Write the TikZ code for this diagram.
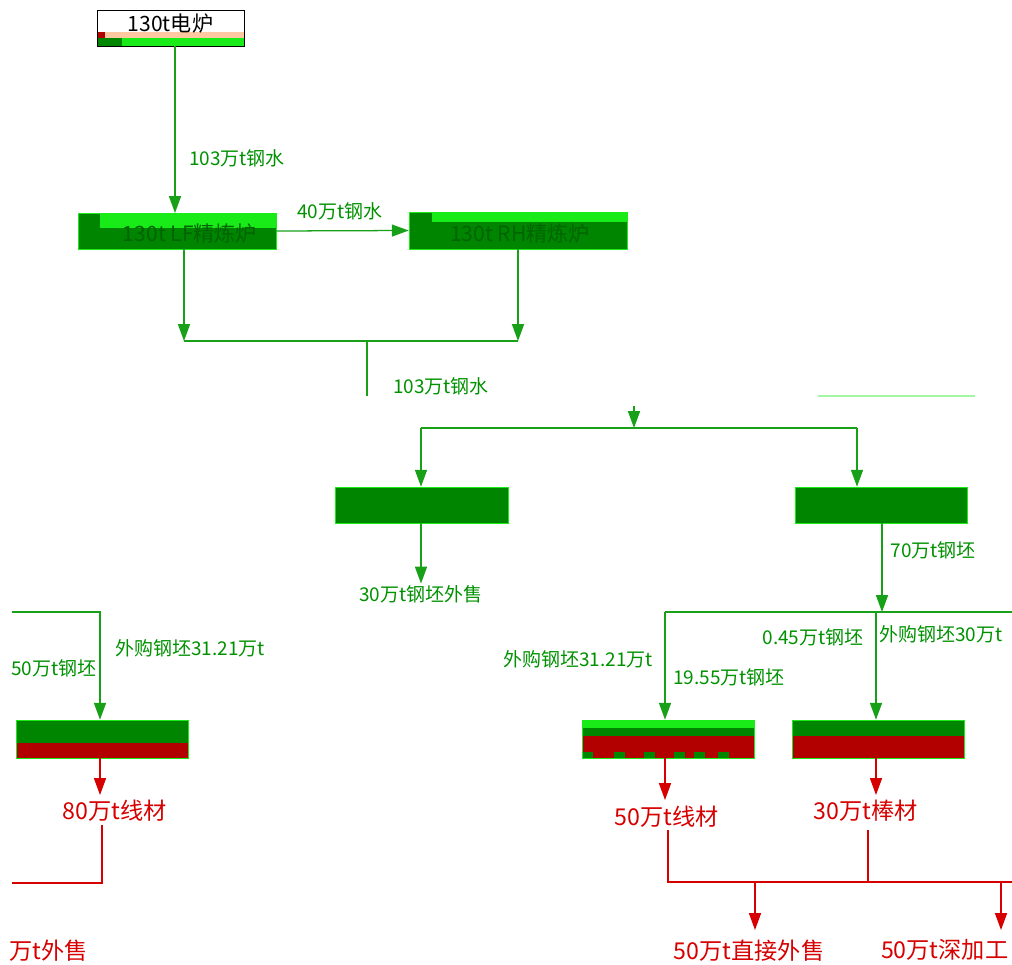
\documentclass[tikz,border=0pt]{standalone}
\usepackage{fontspec}
\setmainfont{Noto Sans CJK SC}
\usetikzlibrary{arrows.meta}
\definecolor{lgreen}{RGB}{25,160,25}
\definecolor{dgreen}{RGB}{0,133,0}
\definecolor{bgreen}{RGB}{25,235,25}
\definecolor{tgreen}{RGB}{0,145,0}
\definecolor{dred}{RGB}{178,0,0}
\definecolor{tred}{RGB}{215,0,0}
\definecolor{salmon}{RGB}{255,200,160}
\tikzset{
  flow/.style={draw=lgreen,line width=0.9pt},
  redflow/.style={draw=tred,line width=0.9pt},
  tip/.style={-{Triangle[length=0.42cm,width=0.3cm]}},
  gbox/.style={fill=dgreen,draw=bgreen,line width=0.4pt,inner sep=0pt},
  gtxt/.style={text=tgreen,font=\fontsize{13.5}{15}\selectfont,inner sep=1pt},
  rtxt/.style={text=tred,font=\fontsize{16.5}{18}\selectfont,inner sep=1pt}
}
\begin{document}
\begin{tikzpicture}[x=0.025cm,y=-0.025cm]
\useasboundingbox (0,0) rectangle (1012,965);
\clip (0,0) rectangle (1012,965);
% furnaces and ladle furnaces
\node[draw=black,fill=white,minimum width=3.675cm,minimum height=0.9cm,inner sep=0pt,
  path picture={
    \fill[salmon] ([yshift=0.2cm]path picture bounding box.south west) rectangle ([yshift=0.35cm]path picture bounding box.south east);
    \fill[dred] ([yshift=0.2cm]path picture bounding box.south west) rectangle ++(0.2cm,0.15cm);
    \fill[bgreen] (path picture bounding box.south west) rectangle ([yshift=0.2cm]path picture bounding box.south east);
    \fill[dgreen] (path picture bounding box.south west) rectangle ++(0.625cm,0.2cm);
  }] (eaf) at (170.5,28) {};
\node[font=\fontsize{15}{16}\selectfont] (eaftxt) at (170.5,24) {130t电炉};
\node[gbox,minimum width=4.95cm,minimum height=0.9cm,
  path picture={\fill[bgreen] ([xshift=0.55cm]path picture bounding box.north west) rectangle ([yshift=-0.375cm]path picture bounding box.north east);}] (lf) at (177,231) {};
\node[text=dgreen!75!black,font=\fontsize{15}{16}\selectfont] (lftxt) at (190,233) {130t LF精炼炉};
\node[gbox,minimum width=5.45cm,minimum height=0.925cm,
  path picture={\fill[bgreen] ([xshift=0.575cm]path picture bounding box.north west) rectangle ([yshift=-0.25cm]path picture bounding box.north east);}] (rh) at (518,230.5) {};
\node[text=dgreen!75!black,font=\fontsize{15}{16}\selectfont] (rhtxt) at (520,233) {130t RH精炼炉};
% casters
\node[gbox,minimum width=4.325cm,minimum height=0.9cm] (ccA) at (421.5,505) {};
\node[gbox,minimum width=4.3cm,minimum height=0.9cm] (ccB) at (881,505) {};
% rolling mills
\node[gbox,minimum width=4.3cm,minimum height=0.95cm,
  path picture={\fill[dred] (path picture bounding box.south west) rectangle ([yshift=0.375cm]path picture bounding box.south east);}] (millL) at (102,739) {};
\node[gbox,minimum width=4.3cm,minimum height=0.95cm,
  path picture={
    \fill[bgreen] (path picture bounding box.north west) rectangle ([yshift=-0.2cm]path picture bounding box.north east);
    \fill[dred] (path picture bounding box.south west) rectangle ([yshift=0.55cm]path picture bounding box.south east);
    \foreach \x in {0,0.8,1.55,2.3,2.8,3.4}
      \fill[dgreen] ([xshift=\x cm]path picture bounding box.south west) rectangle ++(0.275cm,0.15cm);
  }] (millM) at (668,739) {};
\node[gbox,minimum width=4.3cm,minimum height=0.95cm,
  path picture={\fill[dred] (path picture bounding box.south west) rectangle ([yshift=0.55cm]path picture bounding box.south east);}] (millR) at (878,739) {};
% labels
\node[gtxt] (l103a) at (237,158) {103万t钢水};
\node[gtxt] (l40) at (340,211) {40万t钢水};
\node[gtxt] (l103b) at (441,386) {103万t钢水};
\node[gtxt] (saleA) at (421,594) {30万t钢坯外售};
\node[gtxt,anchor=west] (l70) at (889,550) {70万t钢坯};
\node[gtxt] (l50) at (54,668) {50万t钢坯};
\node[gtxt] (lbuyL) at (190,648) {外购钢坯31.21万t};
\node[gtxt] (lbuyM) at (578,659) {外购钢坯31.21万t};
\node[gtxt] (l1955) at (729,677) {19.55万t钢坯};
\node[gtxt] (l045) at (813,637) {0.45万t钢坯};
\node[gtxt] (lbuyR) at (941,634) {外购钢坯30万t};
\node[rtxt] (prodL) at (115,811) {80万t线材};
\node[rtxt] (prodM) at (667,817) {50万t线材};
\node[rtxt] (prodR) at (866,811) {30万t棒材};
\node[rtxt,anchor=north west] (saleL) at (8,938) {万t外售};
\node[rtxt,anchor=north west] (saleM) at (672,938) {50万t直接外售};
\node[rtxt,anchor=north east] (deep) at (1010,938) {50万t深加工};
% junctions
\coordinate (j1) at (184,341);
\coordinate (j2) at (518,341);
\coordinate (j3) at (367,341);
\coordinate (j4) at (367,396);
\coordinate (j5t) at (634,406);
\coordinate (j5) at (634,428);
\coordinate (j6) at (421,428);
\coordinate (j7) at (857,428);
\coordinate (s1) at (818,396);
\coordinate (s2) at (975,396);
\coordinate (j8) at (882,612);
\coordinate (j9) at (665,612);
\coordinate (j10) at (876,612);
\coordinate (j11) at (1012,612);
\coordinate (j12) at (12,612);
\coordinate (j13) at (100,612);
\coordinate (rL) at (100,795);
\coordinate (rM) at (665,800);
\coordinate (rR) at (876,795);
\coordinate (k1) at (102,825);
\coordinate (k2) at (102,883);
\coordinate (k3) at (12,883);
\coordinate (k4) at (668,830);
\coordinate (k5) at (668,882);
\coordinate (k6) at (868,830);
\coordinate (k7) at (868,882);
\coordinate (k8) at (1012,882);
\coordinate (k9) at (755,882);
\coordinate (k10) at (755,930);
\coordinate (k11) at (1001,882);
\coordinate (k12) at (1001,930);
%
\draw[flow,tip] (175,46) -- (175,213);
\draw[flow,tip] (lf.east) -- (rh.west);
\draw[flow,tip] (lf.south -| j1) -- (j1);
\draw[flow,tip] (rh.south -| j2) -- (j2);
\draw[flow] (j1) -- (j2) (j3) -- (j4);
\draw[flow,tip] (j5t) -- (j5);
\draw[flow] (j6) -- (j7);
\draw[flow,tip] (j6) -- (j6 |- ccA.north);
\draw[flow,tip] (j7) -- (j7 |- ccB.north);
\draw[draw=bgreen!40,line width=1.2pt] (s1) -- (s2);
\draw[flow,tip] (ccA.south -| j6) -- (j6 |- saleA.north);
\draw[flow,tip] (ccB.south -| j8) -- (j8);
\draw[flow] (j9) -- (j11);
\draw[flow,tip] (j9) -- (j9 |- millM.north);
\draw[flow,tip] (j10) -- (j10 |- millR.north);
\draw[flow,tip] (j12) -- (j13) -- (j13 |- millL.north);
\draw[redflow,tip] (millL.south -| rL) -- (rL);
\draw[redflow,tip] (millM.south -| rM) -- (rM);
\draw[redflow,tip] (millR.south -| rR) -- (rR);
\draw[redflow] (k1) -- (k2) -- (k3);
\draw[redflow] (k4) -- (k5) -- (k8) (k6) -- (k7);
\draw[redflow,tip] (k9) -- (k10);
\draw[redflow,tip] (k11) -- (k12);
\end{tikzpicture}
\end{document}
